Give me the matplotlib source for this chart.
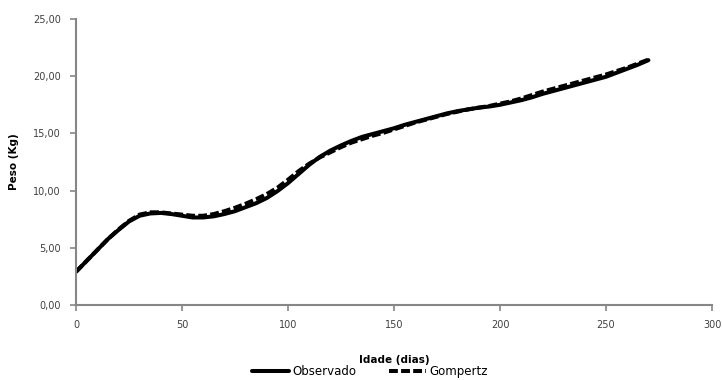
import matplotlib

matplotlib.use("Agg")
import matplotlib.pyplot as plt
from matplotlib.ticker import FuncFormatter

# idade (dias)
idade = list(range(0, 275, 5))

# peso observado (kg)
observado = [2.9, 3.85, 4.8, 5.75, 6.55, 7.3, 7.8, 8.0, 8.05, 7.95, 7.8,
             7.65, 7.65, 7.75, 7.95, 8.2, 8.55, 8.9, 9.35, 9.95, 10.65,
             11.45, 12.25, 12.95, 13.5, 13.95, 14.35, 14.7, 14.95, 15.2,
             15.45, 15.75, 16.0, 16.25, 16.5, 16.75, 16.95, 17.1, 17.25,
             17.35, 17.5, 17.7, 17.9, 18.15, 18.45, 18.7, 18.95, 19.2, 19.45,
             19.7, 19.95, 20.3, 20.65, 21.0, 21.4]

# peso ajustado pelo modelo de Gompertz (kg)
gompertz = [2.9, 3.85, 4.8, 5.75, 6.6, 7.35, 7.9, 8.1, 8.1, 8.0, 7.9,
            7.8, 7.8, 7.95, 8.2, 8.5, 8.85, 9.25, 9.7, 10.25, 10.95,
            11.7, 12.35, 12.9, 13.35, 13.8, 14.2, 14.5, 14.8, 15.05,
            15.35, 15.65, 15.95, 16.2, 16.45, 16.7, 16.9, 17.1, 17.25,
            17.4, 17.6, 17.8, 18.05, 18.35, 18.65, 18.9, 19.15, 19.4, 19.65,
            19.9, 20.15, 20.45, 20.75, 21.1, 21.45]

x_ticks = [0, 50, 100, 150, 200, 250, 300]
y_ticks = [0, 5, 10, 15, 20, 25]

plt.rcParams["font.family"] = ["DejaVu Sans"]

fig = plt.figure(figsize=(7.23, 3.8), dpi=100)
ax = fig.add_axes([0.1051, 0.1974, 0.8797, 0.7526])

ax.plot(idade, observado, color="black", lw=2.9, solid_capstyle="round",
        solid_joinstyle="round", label="Observado")
ax.plot(idade, gompertz, color="black", lw=2.9, linestyle=(0, (2.2, 0.8)),
        dash_joinstyle="round", label="Gompertz")

ax.set_xlim(0, 300)
ax.set_ylim(0, 25)
ax.set_xticks(x_ticks)
ax.set_yticks(y_ticks)
ax.yaxis.set_major_formatter(
    FuncFormatter(lambda v, p: f"{v:.2f}".replace(".", ","))
)

for side in ["top", "right"]:
    ax.spines[side].set_visible(False)
for side in ["left", "bottom"]:
    ax.spines[side].set_color("#868686")
    ax.spines[side].set_linewidth(1.5)

ax.tick_params(axis="both", direction="out", length=4, width=1.2,
               color="#868686", labelsize=7, labelcolor="#404040", pad=7)

ax.set_xlabel("Idade (dias)", fontsize=7.5, fontweight="bold", labelpad=18)
ax.set_ylabel("Peso (Kg)", fontsize=7.5, fontweight="bold", labelpad=10)

ax.legend(loc="center", bbox_to_anchor=(0.462, -0.232), ncol=2,
          frameon=False, fontsize=8.5, handlelength=3.1, handletextpad=0.3,
          columnspacing=2.8, borderpad=0)

fig.savefig("out.png", dpi=100)
